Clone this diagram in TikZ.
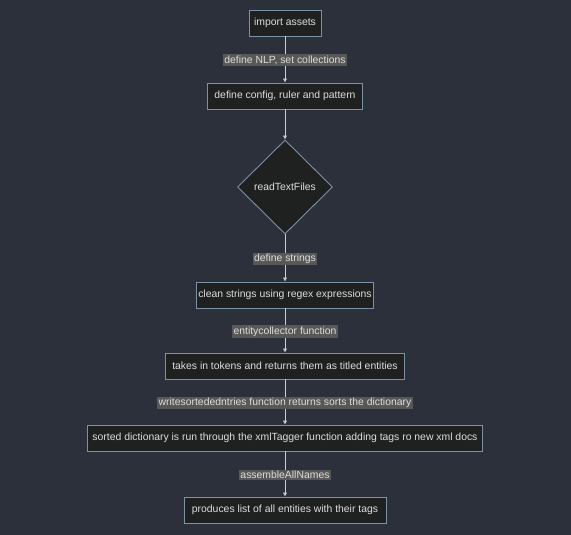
\documentclass[tikz,border=0pt]{standalone}
\usepackage{fontspec}
\setmainfont{Liberation Sans}
\usetikzlibrary{shapes.geometric,arrows.meta}
\definecolor{bg}{RGB}{43,48,59}
\definecolor{boxfill}{RGB}{31,32,32}
\definecolor{boxline}{RGB}{125,145,165}
\definecolor{txt}{RGB}{222,222,222}
\definecolor{lblbg}{RGB}{88,88,88}
\definecolor{edge}{RGB}{205,205,210}
\tikzset{
  x=1pt,y=-1pt,
  stepbox/.style={draw=boxline,fill=boxfill,text=txt,line width=0.9pt,inner sep=0pt,minimum height=26pt,font=\fontsize{10.4}{12}\selectfont},
  decide/.style={diamond,draw=boxline,fill=boxfill,text=txt,line width=0.9pt,inner sep=0pt,minimum width=95pt,minimum height=94pt,font=\fontsize{10.4}{12}\selectfont},
  lbl/.style={fill=lblbg,text=txt,inner sep=1.5pt,font=\fontsize{10.4}{12}\selectfont},
  flow/.style={draw=edge,line width=0.9pt,-{Latex[length=4pt,width=4.5pt]}}
}
\begin{document}
\begin{tikzpicture}
\fill[bg] (0,0) rectangle (571,535);
\useasboundingbox (0,0) rectangle (571,535);
\node[stepbox,minimum width=72pt] (a) at (285,23) {import assets};
\node[stepbox,minimum width=155pt] (b) at (285,96) {define config, ruler and pattern};
\node[decide] (c) at (285,187) {readTextFiles};
\node[stepbox,minimum width=177pt] (d) at (285,295) {clean strings using regex expressions};
\node[stepbox,minimum width=239pt] (e) at (285,366) {takes in tokens and returns them as titled entities};
\node[stepbox,minimum width=395pt] (f) at (285,438) {sorted dictionary is run through the xmlTagger function adding tags ro new xml docs};
\node[stepbox,minimum width=202pt] (g) at (285,510) {produces list of all entities with their tags};
\draw[flow] (a) -- node[lbl,pos=0.52] {define NLP, set collections} (b);
\draw[flow] (b) -- (c);
\draw[flow] (c) -- node[lbl,pos=0.52] {define strings} (d);
\draw[flow] (d) -- node[lbl,pos=0.52] {entitycollector function} (e);
\draw[flow] (e) -- node[lbl,pos=0.52] {writesortededntries function returns sorts the dictionary} (f);
\draw[flow] (f) -- node[lbl,pos=0.52] {assembleAllNames} (g);
\end{tikzpicture}
\end{document}
